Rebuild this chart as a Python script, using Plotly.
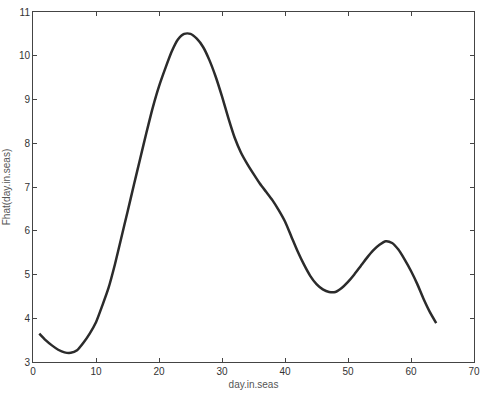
import plotly.graph_objects as go

day = list(range(1, 65))
fhat = [3.65, 3.50, 3.38, 3.28, 3.22, 3.21, 3.27, 3.44, 3.65, 3.91,
        4.29, 4.70, 5.23, 5.83, 6.43, 7.04, 7.64, 8.24, 8.81, 9.30,
        9.71, 10.09, 10.37, 10.50, 10.50, 10.39, 10.20, 9.90, 9.52, 9.07,
        8.58, 8.13, 7.79, 7.53, 7.30, 7.08, 6.89, 6.70, 6.47, 6.21,
        5.87, 5.53, 5.23, 4.97, 4.78, 4.66, 4.60, 4.60, 4.69, 4.83,
        5.00, 5.19, 5.38, 5.55, 5.68, 5.76, 5.72, 5.57, 5.34, 5.08,
        4.78, 4.44, 4.14, 3.89]

x_ticks = [0, 10, 20, 30, 40, 50, 60, 70]
y_ticks = [3, 4, 5, 6, 7, 8, 9, 10, 11]

fig = go.Figure(go.Scatter(x=day, y=fhat, mode="lines",
                           line=dict(color="#2b2b2b", width=2.5, shape="spline", smoothing=0.6)))

axis_common = dict(showgrid=False, zeroline=False, showline=True, mirror="ticks",
                   linecolor="#444444", linewidth=1, ticks="inside", ticklen=4,
                   tickcolor="#444444", tickwidth=1,
                   tickfont=dict(family="Liberation Sans, Arial", size=10, color="#333333"))

fig.update_layout(
    width=486, height=394,
    margin=dict(l=32, r=6, t=8, b=32),
    paper_bgcolor="white", plot_bgcolor="white",
    showlegend=False,
    xaxis=dict(range=[0, 70], tickvals=x_ticks, **axis_common,
               title=dict(text="day.in.seas", standoff=4,
                          font=dict(family="Liberation Sans, Arial", size=10, color="#555555"))),
    yaxis=dict(range=[3, 11], tickvals=y_ticks, **axis_common,
               title=dict(text="Fhat(day.in.seas)", standoff=6,
                          font=dict(family="Liberation Sans, Arial", size=10, color="#555555"))),
)

fig.write_html("out.html")
